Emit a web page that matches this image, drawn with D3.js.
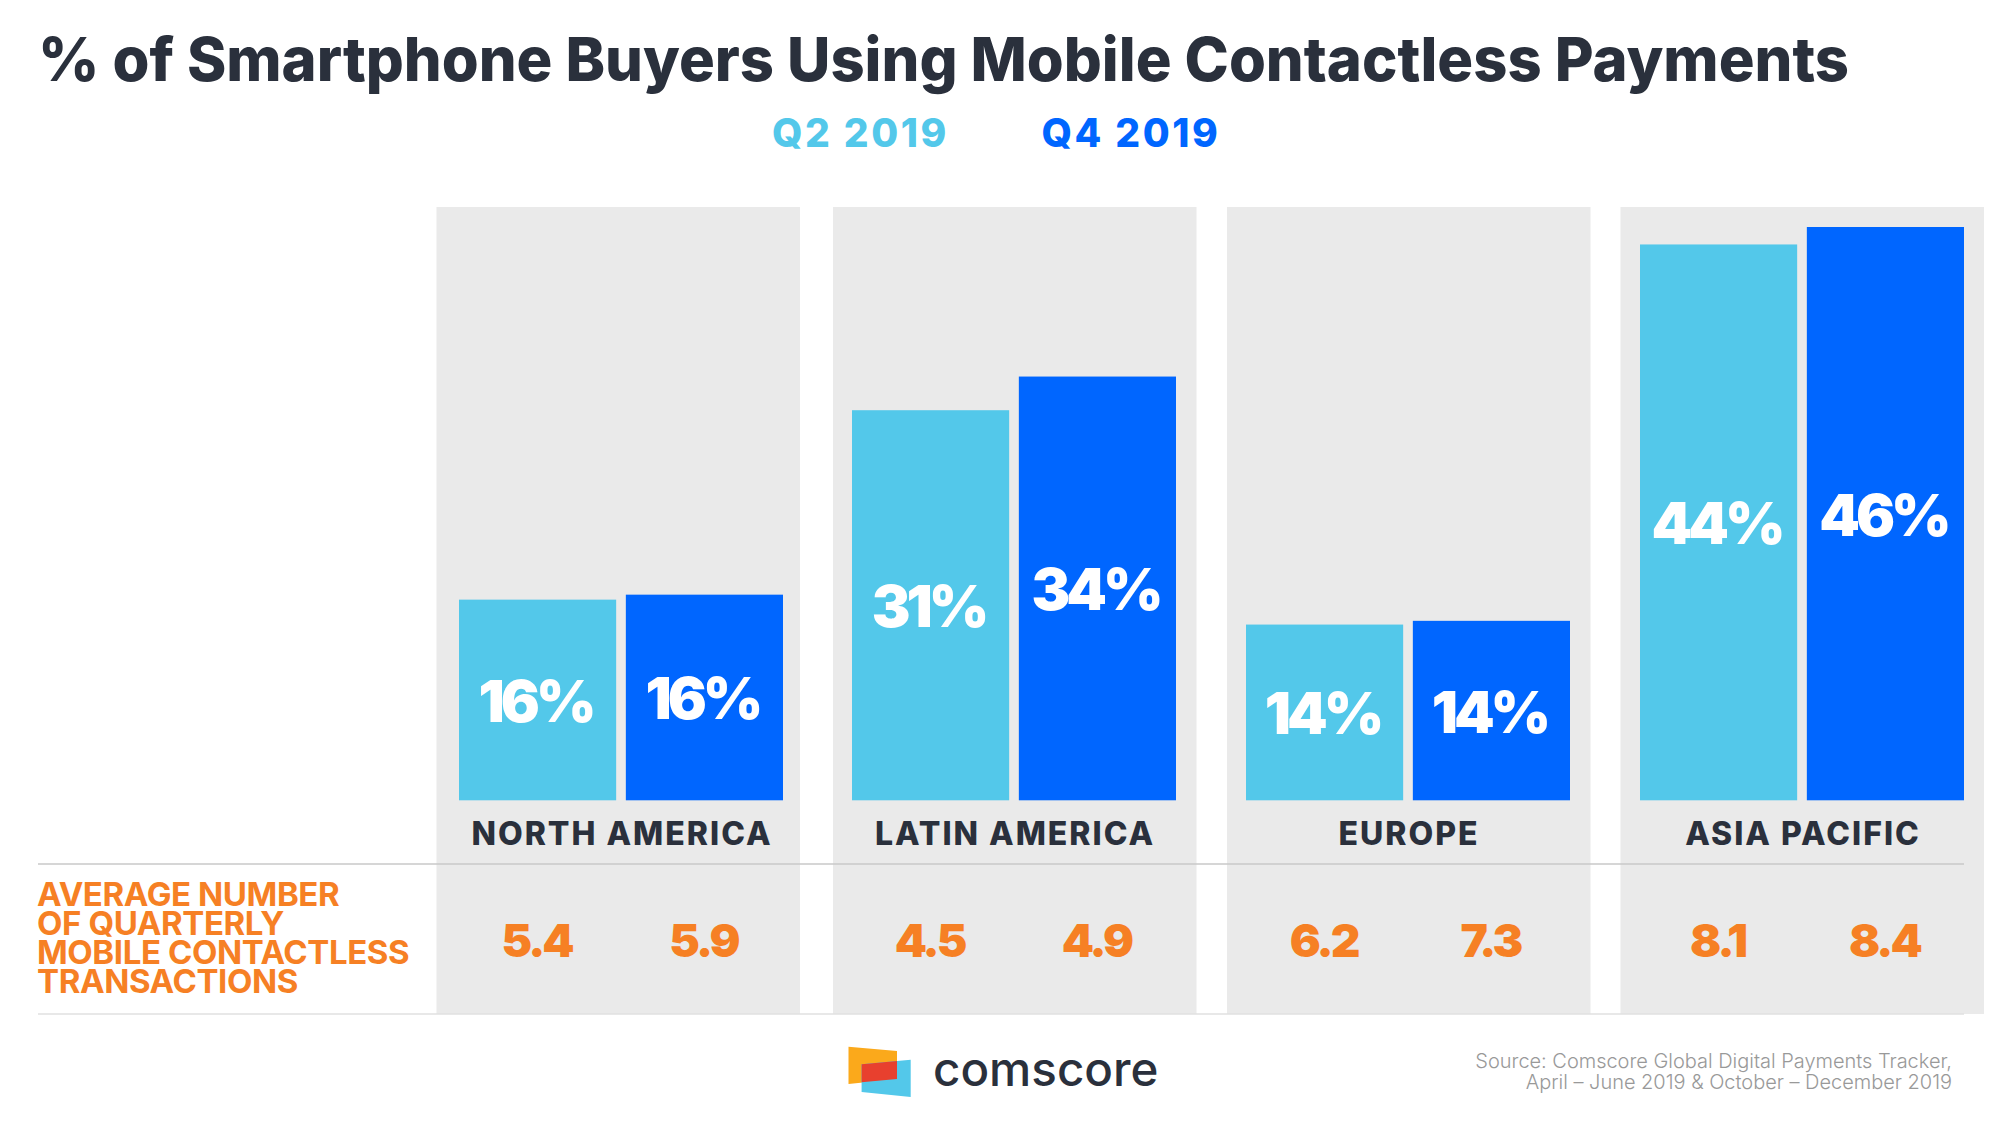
<!DOCTYPE html>
<html>
<head>
<meta charset="utf-8">
<script src="https://cdn.jsdelivr.net/npm/d3@7"></script>
<style>
  body { margin: 0; background: #fff; }
  text { font-family: Inter, sans-serif; }
</style>
</head>
<body>
<div id="canvas"></div>
<script>
(function () {
  var regions = ['NORTH AMERICA', 'LATIN AMERICA', 'EUROPE', 'ASIA PACIFIC']
  var series = ['Q2 2019', 'Q4 2019']
  var q2Share = [16.1, 31.3, 14.1, 44.6]
  var q4Share = [16.5, 34.0, 14.4, 46.0]
  var q2Labels = ['16%', '31%', '14%', '44%']
  var q4Labels = ['16%', '34%', '14%', '46%']
  var q2Transactions = ['5.4', '4.5', '6.2', '8.1']
  var q4Transactions = ['5.9', '4.9', '7.3', '8.4']
  var sideLabel = ['AVERAGE NUMBER', 'OF QUARTERLY', 'MOBILE CONTACTLESS', 'TRANSACTIONS']
  var sourceLines = ['Source: Comscore Global Digital Payments Tracker,', 'April \u2013 June 2019 & October \u2013 December 2019']

  var dark = '#2a303c', orange = '#f68024', panelGrey = '#eaeaea'

  var svg = d3.select('#canvas').append('svg')
    .attr('width', 2000)
    .attr('height', 1133)
    .style('display', 'block')

  // the panels are not evenly spaced in the original
  var panelX = d3.scaleOrdinal(regions, [436.5, 833, 1227, 1620.5])
  var panelW = 363.5
  var groupX = d3.scaleOrdinal(regions, [459, 852, 1246, 1640])
  var inner = d3.scaleBand().domain(series).range([0, 324]).paddingInner(0.058)
  var y = d3.scaleLinear().domain([0, 46]).range([800.3, 227])
  var color = d3.scaleOrdinal(series, ['#53c8ea', '#0066ff'])

  var rows = []
  regions.forEach(function (r, i) {
    rows.push({region: r, s: series[0], v: q2Share[i], label: q2Labels[i], tx: q2Transactions[i]})
    rows.push({region: r, s: series[1], v: q4Share[i], label: q4Labels[i], tx: q4Transactions[i]})
  })
  var barCenter = function (d) { return groupX(d.region) + inner(d.s) + inner.bandwidth() / 2 }

  // title
  svg.append('text')
    .text('% of Smartphone Buyers Using Mobile Contactless Payments')
    .attr('x', 38)
    .attr('y', 81)
    .attr('textLength', 1811)
    .attr('lengthAdjust', 'spacingAndGlyphs')
    .attr('font-size', 61)
    .attr('font-weight', 800)
    .attr('fill', dark)

  // legend
  var legendX = d3.scaleOrdinal(series, [772, 1041.5])
  svg.selectAll('.legend').data(series).enter().append('text')
    .attr('class', 'legend')
    .text(function (d) { return d })
    .attr('x', function (d) { return legendX(d) })
    .attr('y', 146.5)
    .attr('font-size', 39)
    .attr('font-weight', 800)
    .attr('letter-spacing', 2.6)
    .attr('fill', function (d) { return color(d) })

  // panels
  svg.selectAll('.panel').data(regions).enter().append('rect')
    .attr('class', 'panel')
    .attr('x', function (d) { return panelX(d) })
    .attr('y', 207)
    .attr('width', panelW)
    .attr('height', 807)
    .attr('fill', panelGrey)

  // bars
  svg.selectAll('.bar').data(rows).enter().append('rect')
    .attr('class', 'bar')
    .attr('x', function (d) { return groupX(d.region) + inner(d.s) })
    .attr('y', function (d) { return y(d.v) })
    .attr('width', inner.bandwidth())
    .attr('height', function (d) { return y(0) - y(d.v) })
    .attr('fill', function (d) { return color(d.s) })

  svg.selectAll('.pct').data(rows).enter().append('text')
    .attr('class', 'pct')
    .text(function (d) { return d.label })
    .attr('x', function (d) { return barCenter(d) - 2 })
    .attr('y', function (d) { return (y(d.v) + y(0)) / 2 + 22 })
    .attr('text-anchor', 'middle')
    .attr('font-size', 58)
    .attr('font-weight', 900)
    .attr('letter-spacing', -4)
    .attr('fill', '#fff')

  // region names
  svg.selectAll('.region').data(regions).enter().append('text')
    .attr('class', 'region')
    .text(function (d) { return d })
    .attr('x', function (d) { return groupX(d) + 163 })
    .attr('y', 845)
    .attr('text-anchor', 'middle')
    .attr('font-size', 32)
    .attr('font-weight', 800)
    .attr('letter-spacing', 2)
    .attr('fill', dark)

  // rules
  svg.selectAll('.rule').data([864, 1014]).enter().append('line')
    .attr('class', 'rule')
    .attr('x1', 38)
    .attr('x2', 1964)
    .attr('y1', function (d) { return d })
    .attr('y2', function (d) { return d })
    .attr('stroke', function (d, i) { return i ? '#e0e0e0' : '#c8c8c8' })
    .attr('stroke-width', 1.3)

  // transactions row
  svg.selectAll('.side').data(sideLabel).enter().append('text')
    .attr('class', 'side')
    .text(function (d) { return d })
    .attr('x', 37)
    .attr('y', function (d, i) { return 906 + i * 29 })
    .attr('font-size', 33)
    .attr('font-weight', 700)
    .attr('letter-spacing', -0.4)
    .attr('fill', orange)

  svg.selectAll('.tx').data(rows).enter().append('text')
    .attr('class', 'tx')
    .text(function (d) { return d.tx })
    .attr('x', function (d) { return barCenter(d) - 1 })
    .attr('y', 956.5)
    .attr('text-anchor', 'middle')
    .attr('font-size', 46)
    .attr('font-weight', 900)
    .attr('letter-spacing', -3)
    .attr('fill', orange)

  // logo
  var logo = svg.append('g')
  logo.append('polygon').attr('points', '848.5,1046.7 897,1051 897,1079 848.5,1084').attr('fill', '#fba91b')
  logo.append('polygon').attr('points', '861.6,1064.3 910.7,1059.7 910.7,1097 861.6,1092').attr('fill', '#53c8ea')
  logo.append('polygon').attr('points', '861.6,1064.3 897,1061 897,1079 861.6,1082.3').attr('fill', '#e8402e')
  svg.append('text')
    .text('comscore')
    .attr('x', 933)
    .attr('y', 1086)
    .attr('font-size', 47.5)
    .attr('font-weight', 500)
    .attr('fill', dark)

  // source
  svg.selectAll('.source').data(sourceLines).enter().append('text')
    .attr('class', 'source')
    .text(function (d) { return d })
    .attr('x', 1952)
    .attr('y', function (d, i) { return 1068 + i * 21 })
    .attr('text-anchor', 'end')
    .attr('font-size', 20)
    .attr('font-weight', 300)
    .attr('letter-spacing', -0.02)
    .attr('fill', '#999')
})()
</script>
</body>
</html>
